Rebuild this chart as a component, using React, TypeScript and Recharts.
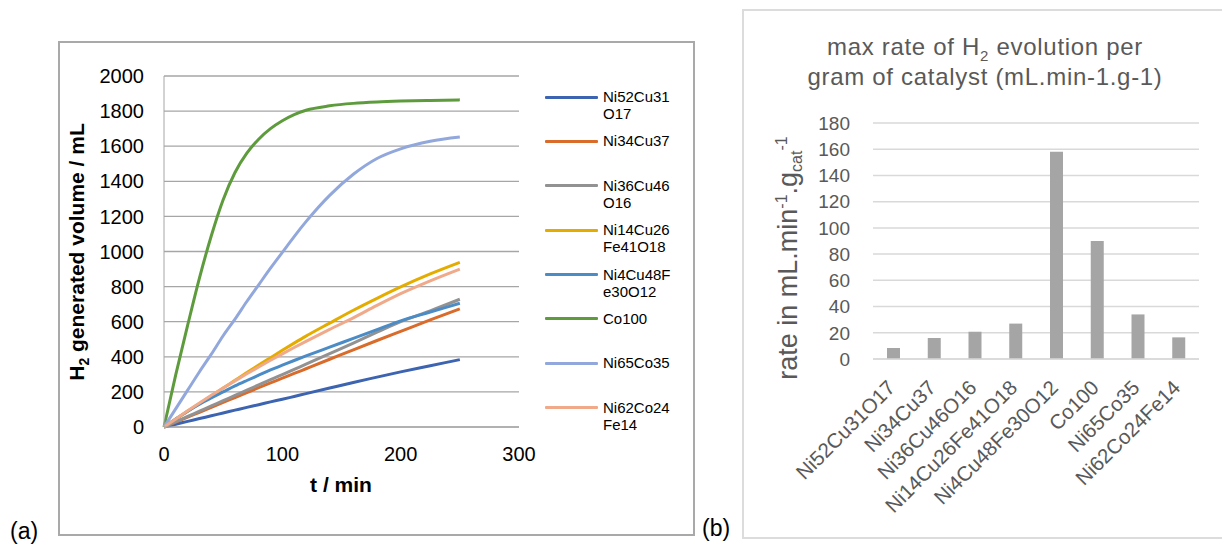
import React from 'react'
import { Bar, BarChart, CartesianGrid, Label, Legend, Line, LineChart, XAxis, YAxis } from 'recharts'

// (a) H2 volume vs time, (b) max rate per gram of catalyst

const FONT = '"Liberation Sans", Arial, sans-serif'

const times = [0, 10, 20, 30, 40, 50, 60, 70, 80, 90, 100, 110, 120, 140, 160, 180, 200, 225, 250]

const ni52cu31o17 = [0, 16, 32, 48, 64, 80, 96, 112, 127, 143, 158, 174, 190, 222, 254, 284, 314, 349, 384]
const ni34cu37 = [0, 28, 56, 84, 112, 140, 168, 196, 224, 251, 278, 305, 332, 386, 440, 493, 545, 610, 673]
const ni36cu46o16 = [0, 30, 60, 90, 120, 150, 180, 210, 240, 270, 298, 328, 358, 418, 478, 540, 600, 662, 728]
const ni14cu26fe41o18 = [0, 45, 90, 134, 178, 222, 266, 310, 353, 395, 437, 478, 518, 592, 665, 733, 798, 872, 938]
const ni4cu48fe30o12 = [0, 46, 90, 130, 166, 200, 234, 265, 295, 325, 352, 379, 405, 455, 505, 555, 605, 655, 705]
const co100 = [0, 300, 580, 850, 1090, 1295, 1450, 1560, 1640, 1700, 1745, 1780, 1805, 1830, 1844, 1852, 1857, 1861, 1864]
const ni65co35 = [0, 105, 210, 315, 415, 520, 615, 715, 810, 905, 995, 1085, 1170, 1320, 1440, 1530, 1585, 1628, 1652]
const ni62co24fe14 = [0, 46, 92, 137, 181, 222, 263, 303, 342, 380, 417, 453, 488, 556, 622, 693, 760, 833, 900]

const timeTicks = [0, 100, 200, 300]
const volumeTicks = [0, 200, 400, 600, 800, 1000, 1200, 1400, 1600, 1800, 2000]

const catalysts = [
  'Ni52Cu31O17',
  'Ni34Cu37',
  'Ni36Cu46O16',
  'Ni14Cu26Fe41O18',
  'Ni4Cu48Fe30O12',
  'Co100',
  'Ni65Co35',
  'Ni62Co24Fe14',
]
const maxRates = [8.4, 16, 20.8, 27, 158, 90, 34, 16.5]
const rateTicks = [0, 20, 40, 60, 80, 100, 120, 140, 160, 180]

const series = [
  { key: 's1', name: 'Ni52Cu31O17', color: '#3C64B1', values: ni52cu31o17 },
  { key: 's2', name: 'Ni34Cu37', color: '#D96B2B', values: ni34cu37 },
  { key: 's3', name: 'Ni36Cu46O16', color: '#929292', values: ni36cu46o16 },
  { key: 's4', name: 'Ni14Cu26Fe41O18', color: '#E5AC00', values: ni14cu26fe41o18 },
  { key: 's5', name: 'Ni4Cu48Fe30O12', color: '#4C8CC6', values: ni4cu48fe30o12 },
  { key: 's6', name: 'Co100', color: '#5E9B3D', values: co100 },
  { key: 's7', name: 'Ni65Co35', color: '#92A8DC', values: ni65co35 },
  { key: 's8', name: 'Ni62Co24Fe14', color: '#F0A989', values: ni62co24fe14 },
]

const volumeData = times.map((t, i) => {
  const row: Record<string, number> = { t }
  series.forEach((s) => {
    row[s.key] = s.values[i]
  })
  return row
})

const rateData = catalysts.map((name, i) => ({ name, rate: maxRates[i] }))

// Recharts sorts the legend payload by name, so walk the series list instead
function VolumeLegend() {
  return (
    <div style={{ fontFamily: FONT, fontSize: 15, color: '#000' }}>
      {series.map((s) => (
        <div key={s.key} style={{ height: 44.4, display: 'flex', alignItems: 'flex-start' }}>
          <span style={{ width: 53, height: 3, background: s.color, marginTop: 7.5, flex: 'none', borderRadius: 1 }} />
          <span style={{ marginLeft: 5, width: 72, wordBreak: 'break-all', lineHeight: '17px' }}>{s.name}</span>
        </div>
      ))}
    </div>
  )
}

function CatalystTick({ x, y, payload }: any) {
  return (
    <g transform={`translate(${x + 3},${y + 30})`}>
      <text transform="rotate(-45)" textAnchor="end" fontSize={20.5} fill="#595959" fontFamily={FONT}>
        {payload.value}
      </text>
    </g>
  )
}

export default function App() {
  return (
    <div style={{ position: 'absolute', left: 0, top: 0, width: 1222, height: 544, overflow: 'hidden', background: '#fff', fontFamily: FONT }}>
      {/* frames */}
      <div style={{ position: 'absolute', left: 58, top: 41, width: 637, height: 495, border: '2px solid #a9a9a9', boxSizing: 'border-box' }} />
      <div style={{ position: 'absolute', left: 742, top: 9, width: 520, height: 530, border: '2px solid #dcdcdc', boxSizing: 'border-box' }} />

      <div style={{ position: 'absolute', left: 0, top: 0 }}>
        <LineChart width={700} height={544} data={volumeData} margin={{ top: 76, right: 181, bottom: 67, left: 104 }}>
          <CartesianGrid vertical={false} stroke="#a6a6a6" strokeWidth={1.3} />
          <XAxis
            dataKey="t"
            type="number"
            domain={[0, 300]}
            ticks={timeTicks}
            height={50}
            stroke="#a6a6a6"
            tickLine={false}
            tickMargin={14}
            tick={{ fontSize: 20, fill: '#000', fontFamily: FONT }}
          >
            <Label
              content={() => (
                <text x={341} y={492} textAnchor="middle" fontSize={21} fontWeight="bold" fill="#000" fontFamily={FONT}>
                  t / min
                </text>
              )}
            />
          </XAxis>
          <YAxis
            type="number"
            domain={[0, 2000]}
            ticks={volumeTicks}
            interval={0}
            width={60}
            stroke="#a6a6a6"
            tickLine={false}
            tickMargin={14}
            tick={{ fontSize: 20, fill: '#000', fontFamily: FONT }}
          >
            <Label
              content={() => (
                <text
                  x={84}
                  y={252}
                  transform="rotate(-90 84 252)"
                  textAnchor="middle"
                  fontSize={21}
                  fontWeight="bold"
                  fill="#000"
                  fontFamily={FONT}
                >
                  H<tspan fontSize={14} dy={5}>2</tspan>
                  <tspan dy={-5}> generated volume / mL</tspan>
                </text>
              )}
            />
          </YAxis>
          <Legend
            layout="horizontal"
            verticalAlign="middle"
            align="center"
            content={<VolumeLegend />}
            wrapperStyle={{ left: 545, top: 88, width: 150, right: 'auto', bottom: 'auto' }}
          />
          {series.map((s) => (
            <Line
              key={s.key}
              dataKey={s.key}
              name={s.name}
              type="monotone"
              stroke={s.color}
              strokeWidth={3}
              dot={false}
              isAnimationActive={false}
            />
          ))}
        </LineChart>
      </div>

      <div
        style={{
          position: 'absolute',
          left: 785,
          top: 32,
          width: 400,
          textAlign: 'center',
          fontSize: 24,
          lineHeight: '30px',
          letterSpacing: 0.7,
          color: '#595959',
        }}
      >
        max rate of H<sub style={{ fontSize: 15, lineHeight: 0 }}>2</sub> evolution per
        <br />
        gram of catalyst (mL.min-1.g-1)
      </div>

      <div style={{ position: 'absolute', left: 742, top: 0 }}>
        <BarChart width={480} height={544} data={rateData} margin={{ top: 123, right: 23, bottom: 35, left: 71 }}>
          <CartesianGrid vertical={false} stroke="#d9d9d9" strokeWidth={1.5} />
          <XAxis
            dataKey="name"
            height={150}
            interval={0}
            axisLine={{ stroke: '#d9d9d9', strokeWidth: 1.5 }}
            tickLine={false}
            tickSize={0}
            tickMargin={0}
            tick={<CatalystTick />}
          />
          <YAxis
            type="number"
            domain={[0, 180]}
            ticks={rateTicks}
            interval={0}
            width={60}
            axisLine={false}
            tickLine={false}
            tickSize={0}
            tickMargin={23}
            tick={{ fontSize: 19, fill: '#595959', fontFamily: FONT }}
          >
            <Label
              content={() => (
                <text
                  x={55}
                  y={258}
                  transform="rotate(-90 55 258)"
                  textAnchor="middle"
                  fontSize={27}
                  fill="#595959"
                  fontFamily={FONT}
                >
                  rate in mL.min
                  <tspan fontSize={16} dy={-10}>-1</tspan>
                  <tspan dy={10}>.g</tspan>
                  <tspan fontSize={16} dy={5}>cat</tspan>
                  <tspan fontSize={16} dy={-15}>-1</tspan>
                </text>
              )}
            />
          </YAxis>
          <Bar dataKey="rate" fill="#a5a5a5" barSize={13} isAnimationActive={false} />
        </BarChart>
      </div>

      <div style={{ position: 'absolute', left: 10, top: 518, fontSize: 23, color: '#000' }}>(a)</div>
      <div style={{ position: 'absolute', left: 702, top: 515, fontSize: 23, color: '#000' }}>(b)</div>
    </div>
  )
}
